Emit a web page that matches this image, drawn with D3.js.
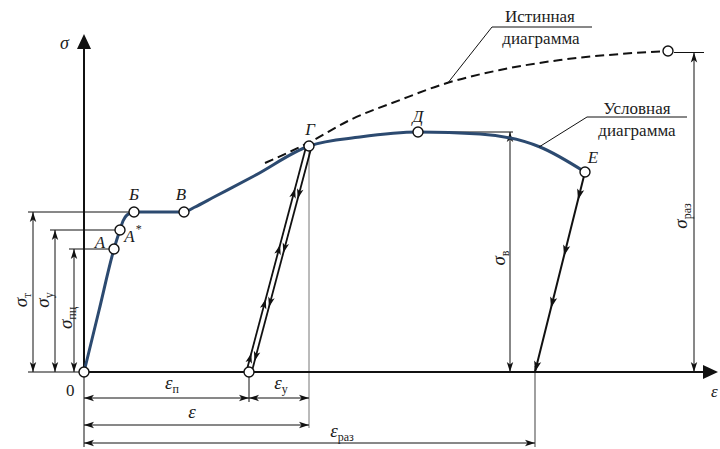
<!DOCTYPE html>
<html>
<head>
<meta charset="utf-8">
<script src="https://cdn.jsdelivr.net/npm/d3@7/dist/d3.min.js"></script>
<style>
  html, body { margin: 0; padding: 0; background: #fff; }
  svg { display: block; }
  svg text { font-family: "Liberation Serif", "Times New Roman", "DejaVu Serif", serif; fill: #1c1c1c; }
</style>
</head>
<body>
<svg id="chart" width="720" height="449" font-family="Liberation Serif, DejaVu Serif, serif"></svg>
<script>
// Conventional (engineering) stress–strain curve, strain in %, stress in MPa
const curveStrain = [0, 0.75, 1.5, 1.65, 1.8, 1.95, 2.15, 2.5, 5.0, 5.5, 6.5, 8.5, 11.25, 13.8, 16.7, 19.8, 22.8, 25.05];
const curveStress = [0, 123, 246, 266, 284, 302, 314, 320, 320, 329, 350, 392, 452, 470, 480, 476, 450, 400];

// True stress–strain curve (dashed), from the start of necking to rupture
const trueStrain = [9.05, 11.3, 13.3, 15.8, 18.15, 20.8, 23.8, 26.8, 29.2];
const trueStress = [418, 460, 504, 544, 578, 604, 624, 636, 642];

// Characteristic points of the diagram
const pointNames  = ["A", "A*", "Б", "В", "Г", "Д", "E"];
const pointStrain = [1.5, 1.8, 2.5, 5.0, 11.25, 16.7, 25.05];
const pointStress = [246, 284, 320, 320, 452, 480, 400];

// Residual strain after unloading from Г, and after rupture at E
const residualStrainG = 8.25;
const residualStrainE = 22.55;
// Rupture on the true diagram
const ruptureStrainTrue = 29.2;
const ruptureStressTrue = 642;

// Stress levels: proportional limit, elastic limit, yield, ultimate, rupture
const sigmaPC = 246, sigmaY = 284, sigmaT = 320, sigmaB = 480, sigmaRaz = ruptureStressTrue;

const svg = d3.select("#chart");
const x = d3.scaleLinear().domain([0, 31.7]).range([84, 718]);
const y = d3.scaleLinear().domain([0, 676]).range([372, 34]);

const black = "#111";
const curveColor = "#2c4a70";
const serif = "Liberation Serif, DejaVu Serif, serif";

// marker for dimension arrows
const defs = svg.append("defs");
defs.append("marker")
  .attr("id", "dimArrow").attr("viewBox", "0 -4 10 8")
  .attr("refX", 10).attr("refY", 0)
  .attr("markerWidth", 10).attr("markerHeight", 8)
  .attr("markerUnits", "userSpaceOnUse")
  .attr("orient", "auto-start-reverse")
  .append("path").attr("d", "M0,-3.2L10,0L0,3.2L2.5,0Z").attr("fill", black);

function line(x1, y1, x2, y2, opts = {}) {
  return svg.append("line")
    .attr("x1", x1).attr("y1", y1).attr("x2", x2).attr("y2", y2)
    .attr("stroke", opts.color || black)
    .attr("stroke-width", opts.width || 1);
}
function dim(x1, y1, x2, y2, opts = {}) {
  return line(x1, y1, x2, y2, opts)
    .attr("marker-start", "url(#dimArrow)")
    .attr("marker-end", "url(#dimArrow)");
}
// small filled arrowhead at (px,py) pointing in direction (dx,dy)
function tri(px, py, dx, dy, len = 10, half = 3.6) {
  const L = Math.hypot(dx, dy), ux = dx / L, uy = dy / L;
  const bx = px - ux * len, by = py - uy * len;
  const nx = -uy, ny = ux;
  svg.append("path")
    .attr("d", `M${px},${py}L${bx + nx * half},${by + ny * half}L${bx + ux * 2.5},${by + uy * 2.5}L${bx - nx * half},${by - ny * half}Z`)
    .attr("fill", black);
}
function text(xp, yp, str, size, italic) {
  return svg.append("text")
    .attr("x", xp).attr("y", yp)
    .attr("font-family", serif)
    .attr("font-size", size)
    .attr("font-style", italic ? "italic" : "normal")
    .text(str);
}

const x0 = x(0), y0 = y(0);

// ---- extension lines ----
const yT = y(sigmaT), yY = y(sigmaY), yPC = y(sigmaPC);
line(28, y0, x0, y0);
line(28, yT, x(pointStrain[2]), yT);
line(50, yY, x(pointStrain[1]), yY);
line(69, yPC, x(pointStrain[0]), yPC);
line(x0, y0, x0, 447);
line(x(residualStrainG), y0, x(residualStrainG), 402);
line(x(pointStrain[4]), y(pointStress[4]), x(pointStrain[4]), 428, { color: "#777" });
line(x(residualStrainE), y0 - 6, x(residualStrainE), 447, { color: "#777", width: 1.4 });
line(x(pointStrain[5]), y(sigmaB), x(pointStrain[5]) + 95, y(sigmaB));
line(x(ruptureStrainTrue) + 6, y(sigmaRaz) + 1.5, 704, y(sigmaRaz) + 1.5);

// ---- stress dimension lines (left) ----
dim(33, y0, 33, yT);
dim(55, y0, 55, yY);
dim(74, y0, 74, yPC);
// ultimate and rupture stresses
dim(510, y0, 510, y(sigmaB));
dim(694, y0, 694, y(sigmaRaz) + 1.5);

// ---- strain dimension lines (bottom) ----
dim(x0, 398, x(residualStrainG), 398);
dim(x(residualStrainG), 398, x(pointStrain[4]), 398);
dim(x0, 425, x(pointStrain[4]), 425);
dim(x0, 443, x(residualStrainE), 443);

// ---- axes ----
line(x0, y0, x0, 46, { width: 2 });
line(x0, y0, 706, y0, { width: 2 });
svg.append("path").attr("d", `M${x0},${y(676)}L${x0 - 7},${y(676) + 15}L${x0 + 7},${y(676) + 15}Z`).attr("fill", black);
svg.append("path").attr("d", `M718,${y0}L703,${y0 - 7}L703,${y0 + 7}Z`).attr("fill", black);

// ---- true diagram (dashed) ----
const gen = d3.line().x(d => x(d[0])).y(d => y(d[1])).curve(d3.curveMonotoneX);
svg.append("path")
  .datum(trueStrain.map((s, i) => [s, trueStress[i]]))
  .attr("d", gen)
  .attr("fill", "none").attr("stroke", black)
  .attr("stroke-width", 2).attr("stroke-dasharray", "9,5");

// ---- conventional diagram ----
svg.append("path")
  .datum(curveStrain.map((s, i) => [s, curveStress[i]]))
  .attr("d", gen)
  .attr("fill", "none").attr("stroke", curveColor)
  .attr("stroke-width", 3).attr("stroke-linejoin", "round");

// ---- unloading / reloading from Г (double line with arrows) ----
{
  const ax = x(pointStrain[4]), ay = y(pointStress[4]);
  const bx = x(residualStrainG), by = y0;
  const dx = bx - ax, dy = by - ay, L = Math.hypot(dx, dy);
  const nx = -dy / L, ny = dx / L;
  const off = 2.6;
  // unloading branch (downward)
  line(ax - nx * off, ay - ny * off, bx - nx * off, by - ny * off, { width: 1.8 });
  // reloading branch (upward)
  line(ax + nx * off, ay + ny * off, bx + nx * off, by + ny * off, { width: 1.8 });
  [0.23, 0.47, 0.71, 0.95].forEach(t => {
    tri(ax + dx * t - nx * off, ay + dy * t - ny * off, dx, dy, 10, 3.3);
  });
  [0.19, 0.44, 0.68, 0.92].forEach(t => {
    tri(ax + dx * t + nx * off, ay + dy * t + ny * off, -dx, -dy, 10, 3.3);
  });
}

// ---- unloading after rupture from E ----
{
  const ax = x(pointStrain[6]), ay = y(pointStress[6]);
  const bx = x(residualStrainE), by = y0;
  const dx = bx - ax, dy = by - ay;
  line(ax, ay, bx, by, { width: 2 });
  [0.14, 0.42, 0.68, 1.0].forEach(t => tri(ax + dx * t, ay + dy * t, dx, dy, 11, 3.6));
}

// ---- leader lines for diagram names ----
line(447, 84, 492, 27);
line(492, 27, 592, 27);
line(539, 147, 587, 117);
line(587, 117, 687, 117);

// ---- points ----
const circles = pointStrain.map((s, i) => [s, pointStress[i]])
  .concat([[0, 0], [residualStrainG, 0], [ruptureStrainTrue, ruptureStressTrue]]);
svg.selectAll("circle.pt").data(circles).enter().append("circle")
  .attr("class", "pt")
  .attr("cx", d => x(d[0])).attr("cy", d => y(d[1])).attr("r", 5)
  .attr("fill", "#fff").attr("stroke", black).attr("stroke-width", 1.4);

// ---- point labels ----
const labelOffsets = { "A": [-14, -1], "A*": [13, 12], "Б": [0, -12], "В": [-3, -12], "Г": [1, -11], "Д": [0, -10], "E": [8, -9] };
pointNames.forEach((n, i) => {
  const [ox, oy] = labelOffsets[n];
  const t = text(x(pointStrain[i]) + ox, y(pointStress[i]) + oy, n === "A*" ? "A" : n, 17, true)
    .attr("text-anchor", "middle");
  if (n === "A*") {
    t.append("tspan").attr("dy", -9).attr("dx", 1).attr("font-size", 12).attr("font-style", "normal").text("*");
  }
});

// origin label
text(66, 396, "0", 17, false);

// axis names
text(60, 49, "σ", 18, true);
text(711, 397, "ε", 17, true);

// subscripted labels
function sub(xp, yp, main, s, rotate) {
  const t = svg.append("text").attr("font-size", 19)
    .attr("font-family", serif)
    .attr("text-anchor", "middle")
    .attr("transform", `translate(${xp},${yp})` + (rotate ? " rotate(-90)" : ""));
  t.append("tspan").attr("font-style", "italic").text(main);
  t.append("tspan").attr("font-size", 12).attr("dy", 4).text(s);
  return t;
}
sub(27, 300, "σ", "т", true);
sub(49, 300, "σ", "у", true);
sub(72, 318, "σ", "пц", true);
sub(505, 258, "σ", "в", true);
sub(687, 216, "σ", "раз", true);
sub(172, 389, "ε", "п", false);
sub(281, 389, "ε", "у", false);
text(192, 418, "ε", 19, true).attr("text-anchor", "middle");
sub(342, 437, "ε", "раз", false);

// diagram names
const names = [
  { x: 540, y: 22, t: "Истинная" }, { x: 541, y: 44, t: "диаграмма" },
  { x: 637, y: 114, t: "Условная" }, { x: 637, y: 136, t: "диаграмма" }
];
names.forEach(d => text(d.x, d.y, d.t, 17, false).attr("text-anchor", "middle"));
</script>
</body>
</html>
